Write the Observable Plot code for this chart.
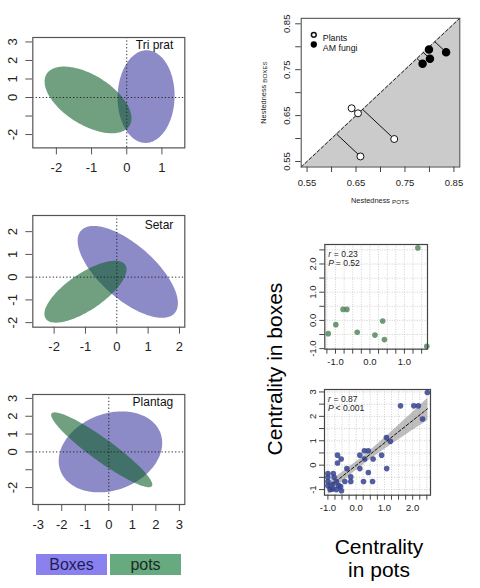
<!DOCTYPE html>
<html><head><meta charset="utf-8">
<script src="https://cdn.jsdelivr.net/npm/d3@7"></script>
<script src="https://cdn.jsdelivr.net/npm/@observablehq/plot@0.6"></script>
<style>
html,body{margin:0;padding:0;background:#fff;}
#fig{position:relative;width:480px;height:588px;overflow:hidden;font-family:"Liberation Sans",Arial,Helvetica,sans-serif;}
#fig svg{overflow:visible;}
.abs{position:absolute;white-space:nowrap;}
</style></head><body><div id="fig"></div>
<script>
// ---------------- DATA ----------------
// Ellipse panels (left column)
const ellipsePanels = ["Tri prat", "Setar", "Plantag"];
const groups = ["Boxes", "pots"];
// ellipse: centre x, centre y, half-width (x), half-height (y), x–y correlation
const boxesCx  = [0.55, 0.35, 0.07];
const boxesCy  = [0.05, 0.23, 0.00];
const boxesSx  = [0.81, 1.60, 2.20];
const boxesSy  = [2.50, 2.02, 2.27];
const boxesRho = [0.02, -0.68, 0.22];
const potsCx   = [-1.10, -1.00, -0.30];
const potsCy   = [-0.13, -0.64, 0.12];
const potsSx   = [1.235, 1.31, 2.15];
const potsSy   = [1.80, 1.36, 2.10];
const potsRho  = [-0.55, 0.72, -0.93];
const ellXDomain = [[-2.67, 1.65], [-2.68, 2.17], [-3.23, 3.23]];
const ellYDomain = [[-2.72, 3.24], [-2.20, 2.71], [-2.95, 3.22]];
const ellXTicks = [[-2, -1, 0, 1], [-2, -1, 0, 1, 2], [-3, -2, -1, 0, 1, 2, 3]];
const ellXLabels = [["-2", "-1", "0", "1"], ["-2", "-1", "0", "1", "2"], ["-3", "-2", "-1", "0", "1", "2", "3"]];
const ellYTicks = [[-2, -1, 0, 1, 2, 3], [-2, -1, 0, 1, 2], [-2, -1, 0, 1, 2, 3]];
const ellYLabels = [["-2", "", "0", "1", "2", "3"], ["-2", "-1", "0", "1", "2"], ["-2", "", "0", "1", "2", "3"]];

// Nestedness panel (top right)
const plantsPots  = [0.641, 0.654, 0.728, 0.659];
const plantsBoxes = [0.666, 0.655, 0.599, 0.561];
const fungiPots   = [0.799, 0.801, 0.786, 0.834];
const fungiBoxes  = [0.794, 0.774, 0.763, 0.788];
const nestDomain  = [0.538, 0.862];
const nestTicks   = [0.55, 0.60, 0.65, 0.70, 0.75, 0.80, 0.85];
const nestLabels  = ["0.55", "", "0.65", "", "0.75", "", "0.85"];
const nestLegend  = ["Plants", "AM fungi"];

// Centrality, pots species (green)
const cenGreenPots  = [-1.21, -0.99, -0.78, -0.67, -0.37, 0.145, 0.37, 0.42, 1.39, 1.65];
const cenGreenBoxes = [-0.47, -0.15, 0.39, 0.39, -0.42, -0.52, -0.02, -0.68, 2.57, -0.92];
const greenStats = ["0.23", "= 0.52"];
// Centrality, boxes species (blue)
const cenBluePots  = [-0.66, -0.53, -0.66, -0.33, -0.19, -0.19, 0.13, 0.29, 0.43, 0.90, 0.30, 0.60, 1.08, 0.43, 0.13, 0.26, 0.58,
                      1.07, 1.21, 1.57, 2.04, 2.20, 2.35, 2.52,
                      -1.00, -0.81, -1.00, -0.78, -1.00, -0.83, -1.00, -0.83, -0.70, -0.55, -0.40, -0.70, -0.92, -0.62, -0.52];
const cenBlueBoxes = [0.41, 0.25, 0.09, -0.14, -0.48, -0.67, 0.41, 0.59, 0.59, 0.41, 0.25, 0.25, -0.14, -0.30, -0.14, -0.67, -0.67,
                      1.13, 0.98, 2.43, 2.43, 2.43, 1.89, 2.98,
                      -0.34, -0.34, -0.50, -0.50, -0.67, -0.78, -0.84, -0.98, -1.00, -0.88, -0.67, -0.67, -1.00, -0.84, -1.05];
const blueStats = ["0.87", "< 0.001"];
const cenTopX = [-1.31, 1.67], cenTopY = [-1.02, 2.69];
const cenBotX = [-1.12, 2.63], cenBotY = [-1.23, 3.10];
const cenTopXTicks = [-1.25, -1, -0.75, -0.5, -0.25, 0, 0.25, 0.5, 0.75, 1, 1.25, 1.5];
const cenTopXLabels = ["", "-1.0", "", "", "", "0.0", "", "", "", "1.0", "", ""];
const cenTopYTicks = [-1, -0.5, 0, 0.5, 1, 1.5, 2, 2.5];
const cenTopYLabels = ["-1.0", "", "0.0", "", "1.0", "", "2.0", ""];
const cenBotXTicks = [-1, -0.75, -0.5, -0.25, 0, 0.25, 0.5, 0.75, 1, 1.25, 1.5, 1.75, 2, 2.25, 2.5];
const cenBotXLabels = ["-1.0", "", "", "", "0.0", "", "", "", "1.0", "", "", "", "2.0", "", ""];
const cenBotYTicks = [-1, -0.5, 0, 0.5, 1, 1.5, 2, 2.5, 3];
const cenBotYLabels = ["-1", "", "0", "", "1", "", "2", "", "3"];

// ---------------- RENDER ----------------
const FONT = '"Liberation Sans", Arial, Helvetica, sans-serif';
const fig = document.getElementById("fig");
function place(el, left, top) {
  el.style.position = "absolute";
  el.style.left = left + "px";
  el.style.top = top + "px";
  fig.appendChild(el);
}
function labeler(ticks, labels) {
  const m = new Map(ticks.map((t, i) => [t, labels[i]]));
  return d => m.get(d) ?? "";
}
function ellipse(cx, cy, sx, sy, rho) {
  const k = Math.sqrt(1 - rho * rho), pts = [];
  for (let i = 0; i <= 160; i++) {
    const t = 2 * Math.PI * i / 160;
    pts.push({x: cx + sx * Math.cos(t), y: cy + sy * (rho * Math.cos(t) + k * Math.sin(t))});
  }
  return pts;
}

const BLUE_FILL = "#8c8bc8", GREEN_FILL = "#10602a";
const ellFrames = [[37.3, 147.7], [215, 326.7], [394.3, 504.3]];
const titleDy = [3, 5, 2.5];
ellipsePanels.forEach((name, i) => {
  const [fTop, fBot] = ellFrames[i];
  const mt = 27, mb = 36;
  const svg = Plot.plot({
    width: 200, height: (fBot - fTop) + mt + mb,
    marginLeft: 32.3, marginRight: 200 - 184.3, marginTop: mt, marginBottom: mb,
    x: {domain: ellXDomain[i]}, y: {domain: ellYDomain[i]},
    style: {fontFamily: FONT, fontSize: "13px", color: "#333", background: "transparent"},
    marks: [
      Plot.line(ellipse(boxesCx[i], boxesCy[i], boxesSx[i], boxesSy[i], boxesRho[i]), {x: "x", y: "y", fill: BLUE_FILL, stroke: "none"}),
      Plot.line(ellipse(potsCx[i], potsCy[i], potsSx[i], potsSy[i], potsRho[i]), {x: "x", y: "y", fill: GREEN_FILL, fillOpacity: 0.6, stroke: "none"}),
      Plot.ruleX([0], {stroke: "#222", strokeDasharray: "1.2,2.2", strokeWidth: 1}),
      Plot.ruleY([0], {stroke: "#222", strokeDasharray: "1.2,2.2", strokeWidth: 1}),
      Plot.frame({stroke: "#555", strokeWidth: 1.2}),
      Plot.axisX(ellXTicks[i], {tickSize: 7, tickPadding: 8, stroke: "#555", fill: "#222", tickFormat: labeler(ellXTicks[i], ellXLabels[i]), label: null}),
      Plot.axisY(ellYTicks[i], {tickSize: 7, tickPadding: 8.5, tickRotate: -90, stroke: "#555", fill: "#222", tickFormat: labeler(ellYTicks[i], ellYLabels[i]), label: null}),
      Plot.text([name], {frameAnchor: "top-right", dx: -11.5, dy: titleDy[i], lineAnchor: "top", fontSize: 12, fill: "#111"})
    ]
  });
  place(svg, 0, fTop - mt);
});

// legend boxes bottom-left
const legendColors = ["#8a81ee", "#68aa80"];
const legendText = ["#1d1d55", "#1a2c1f"];
groups.forEach((g, i) => {
  const d = document.createElement("div");
  d.className = "abs";
  d.textContent = g;
  Object.assign(d.style, {left: (i === 0 ? 36 : 110) + "px", top: "554px", width: "71px", height: "21px",
    background: legendColors[i], color: legendText[i], fontSize: "16px", lineHeight: "22px", textAlign: "center"});
  fig.appendChild(d);
});

// Nestedness
{
  const plants = plantsPots.map((x, i) => ({x, y: plantsBoxes[i]}));
  const fungi = fungiPots.map((x, i) => ({x, y: fungiBoxes[i]}));
  const all = plants.concat(fungi);
  const diag = nestDomain.map(v => ({v}));
  const fTop = 17.8, fBot = 166.5, mt = 17.8, mb = 48.5;
  const svg = Plot.plot({
    width: 230, height: (fBot - fTop) + mt + mb,
    marginLeft: 50.7, marginRight: 20.7, marginTop: mt, marginBottom: mb,
    x: {domain: nestDomain}, y: {domain: nestDomain},
    style: {fontFamily: FONT, fontSize: "9.5px", color: "#333", background: "transparent"},
    marks: [
      Plot.areaY(diag, {x: "v", y1: nestDomain[0], y2: "v", fill: "#cbcbcb"}),
      Plot.line(diag, {x: "v", y: "v", stroke: "#222", strokeDasharray: "3,2.5", strokeWidth: 1}),
      Plot.link(all, {x1: "x", y1: "y", x2: d => (d.x + d.y) / 2, y2: d => (d.x + d.y) / 2, stroke: "#111", strokeWidth: 1}),
      Plot.dot(plants, {x: "x", y: "y", r: 3.5, fill: "white", stroke: "#111", strokeWidth: 1}),
      Plot.dot(fungi, {x: "x", y: "y", r: 3.5, fill: "#000", stroke: "#000"}),
      Plot.dot([nestLegend[0]], {frameAnchor: "top-left", dx: 12.6, dy: 16.5, r: 2.4, fill: "white", stroke: "#111"}),
      Plot.dot([nestLegend[1]], {frameAnchor: "top-left", dx: 12.6, dy: 26.2, r: 2.4, fill: "#000", stroke: "#000"}),
      Plot.text([nestLegend[0]], {frameAnchor: "top-left", dx: 21.6, dy: 16.5, text: d => d, textAnchor: "start", fontSize: 8.8, fill: "#111"}),
      Plot.text([nestLegend[1]], {frameAnchor: "top-left", dx: 21.6, dy: 26.2, text: d => d, textAnchor: "start", fontSize: 8.8, fill: "#111"}),
      Plot.frame({stroke: "#444", strokeWidth: 1}),
      Plot.axisX(nestTicks, {tickSize: 5.5, tickPadding: 7, stroke: "#444", fill: "#222", tickFormat: labeler(nestTicks, nestLabels), label: null}),
      Plot.axisY(nestTicks, {tickSize: 5.5, tickPadding: 6, tickRotate: -90, stroke: "#444", fill: "#222", tickFormat: labeler(nestTicks, nestLabels), label: null})
    ]
  });
  place(svg, 250, fTop - mt);
  const xl = document.createElement("div");
  xl.className = "abs";
  xl.innerHTML = 'Nestedness <span style="font-size:6.2px;position:relative;top:1px">POTS</span>';
  Object.assign(xl.style, {left: "330px", top: "196px", width: "100px", textAlign: "center", fontSize: "7.4px", color: "#222"});
  fig.appendChild(xl);
  const yl = document.createElement("div");
  yl.className = "abs";
  yl.innerHTML = 'Nestedness <span style="font-size:6.2px;position:relative;top:1px">BOXES</span>';
  Object.assign(yl.style, {left: "213px", top: "88px", width: "100px", textAlign: "center", fontSize: "7.4px", color: "#222", transform: "rotate(-90deg)"});
  fig.appendChild(yl);
}

// Centrality scatter helper
function centrality(px, py, color, stats, xDom, yDom, xT, xL, yT, yL, frame, svgLeft, withFit) {
  const pts = px.map((x, i) => ({x, y: py[i]}));
  const [fl, fr, ft, fb] = frame;
  const W = 150, mt = 10, mb = 24;
  const marks = [
    Plot.gridX(xT, {stroke: "#bbb", strokeOpacity: 0.7, strokeDasharray: "1,1.5"}),
    Plot.gridY(yT, {stroke: "#bbb", strokeOpacity: 0.7, strokeDasharray: "1,1.5"})
  ];
  if (withFit) marks.push(Plot.linearRegressionY(pts, {x: "x", y: "y", stroke: "#111", strokeDasharray: "3,2", strokeWidth: 1, fill: "#888", fillOpacity: 0.55}));
  marks.push(
    Plot.dot(pts, {x: "x", y: "y", r: 2.8, fill: color, fillOpacity: 0.85, stroke: "none"}),
    Plot.text(["r"], {frameAnchor: "top-left", dx: 3.5, dy: 6, fontStyle: "italic", textAnchor: "start", fontSize: 8.6, fill: "#222"}),
    Plot.text(["= " + stats[0]], {frameAnchor: "top-left", dx: 9, dy: 6, textAnchor: "start", fontSize: 8.6, fill: "#222"}),
    Plot.text(["P"], {frameAnchor: "top-left", dx: 3.5, dy: 15, fontStyle: "italic", textAnchor: "start", fontSize: 8.6, fill: "#222"}),
    Plot.text([stats[1]], {frameAnchor: "top-left", dx: 11, dy: 15, textAnchor: "start", fontSize: 8.6, fill: "#222"}),
    Plot.frame({stroke: "#444", strokeWidth: 1.2}),
    Plot.axisX(xT, {tickSize: 5, tickPadding: 4, stroke: "#444", fill: "#222", tickFormat: labeler(xT, xL), label: null}),
    Plot.axisY(yT, {tickSize: 5, tickPadding: 4, tickRotate: -90, stroke: "#444", fill: "#222", tickFormat: labeler(yT, yL), label: null})
  );
  const svg = Plot.plot({
    width: W, height: (fb - ft) + mt + mb,
    marginLeft: fl - svgLeft, marginRight: svgLeft + W - fr, marginTop: mt, marginBottom: mb,
    x: {domain: xDom}, y: {domain: yDom},
    style: {fontFamily: FONT, fontSize: "9.5px", color: "#333", background: "transparent"},
    marks
  });
  place(svg, svgLeft, ft - mt);
}
centrality(cenGreenPots, cenGreenBoxes, "#55875d", greenStats, cenTopX, cenTopY,
  cenTopXTicks, cenTopXLabels, cenTopYTicks, cenTopYLabels, [324.3, 427, 244, 348.7], 290, false);
centrality(cenBluePots, cenBlueBoxes, "#34428e", blueStats, cenBotX, cenBotY,
  cenBotXTicks, cenBotXLabels, cenBotYTicks, cenBotYLabels, [324, 430, 389.3, 495], 290, true);

// Big axis titles
const yBig = document.createElement("div");
yBig.className = "abs";
yBig.textContent = "Centrality in boxes";
Object.assign(yBig.style, {left: "175px", top: "357px", width: "200px", textAlign: "center", fontSize: "21px", lineHeight: "24px", color: "#000", transform: "rotate(-90deg)"});
fig.appendChild(yBig);
const xBig = document.createElement("div");
xBig.className = "abs";
xBig.innerHTML = "Centrality<br>in pots";
Object.assign(xBig.style, {left: "299px", top: "536px", width: "160px", textAlign: "center", fontSize: "21px", lineHeight: "22.5px", color: "#000", whiteSpace: "normal"});
fig.appendChild(xBig);
</script></body></html>
